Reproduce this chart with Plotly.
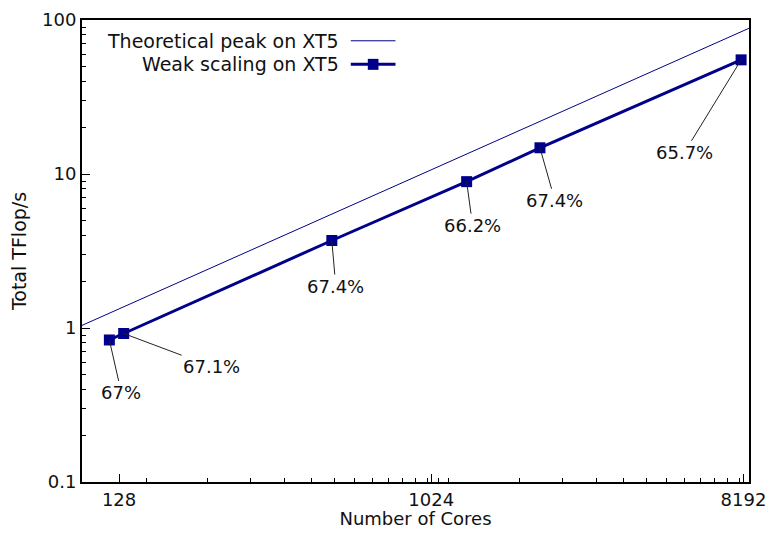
import math
import plotly.graph_objects as go

# --- data
cores = [120, 132, 528, 1296, 2112, 8064]
tflops = [0.836, 0.921, 3.70, 8.92, 14.8, 55.1]
efficiency = ["67%", "67.1%", "67.4%", "66.2%", "67.4%", "65.7%"]

peak_cores = [100, 8500]
peak_tflops = [1.04, 88.4]

x_ticks = [128, 1024, 8192]
y_ticks = [0.1, 1, 10, 100]
x_minor = [128 * 0.6 * k for k in range(2, 16)] + [1024 * 0.6 * k for k in range(3, 14)]

# label offsets (pixels from the point)
label_dx = [12, 88, 4, 6, 15, -57]
label_dy = [53, 33, 46, 44, 53, 93]

navy = "#00008b"
font = "DejaVu Sans"
txt = "#111111"

fig = go.Figure()
fig.add_trace(go.Scatter(x=peak_cores, y=peak_tflops, mode="lines",
                         name="Theoretical peak on XT5", line=dict(color=navy, width=1)))
fig.add_trace(go.Scatter(x=cores, y=tflops, mode="lines+markers",
                         name="Weak scaling on XT5", line=dict(color=navy, width=3),
                         marker=dict(symbol="square", size=11, color=navy)))

# log axes: annotation coordinates are given in log10 units
for c, t, lab, dx, dy in zip(cores, tflops, efficiency, label_dx, label_dy):
    fig.add_annotation(x=math.log10(c), y=math.log10(t), xref="x", yref="y",
                       ax=dx, ay=dy, text=lab, showarrow=True, arrowhead=0,
                       arrowwidth=1, arrowcolor="#222222",
                       font=dict(family=font, size=18, color=txt))

# legend drawn by hand: text right-aligned, sample to the right
leg_names = ["Theoretical peak on XT5", "Weak scaling on XT5"]
leg_y = [0.955, 0.904]
leg_w = [1, 3]
for name, yy, w in zip(leg_names, leg_y, leg_w):
    fig.add_annotation(x=0.389, y=yy, xref="paper", yref="paper", text=name,
                       showarrow=False, xanchor="right", yanchor="middle",
                       font=dict(family=font, size=19, color=txt))
    fig.add_shape(type="line", xref="paper", yref="paper", x0=0.403, x1=0.470,
                  y0=yy, y1=yy, line=dict(color=navy, width=w))
fig.add_shape(type="rect", xref="paper", yref="paper", x0=0.4285, x1=0.4445,
              y0=leg_y[1] - 0.0119, y1=leg_y[1] + 0.0119,
              fillcolor=navy, line=dict(width=0))

axis_common = dict(showline=True, linecolor="black", linewidth=2, mirror=True,
                   ticks="inside", ticklen=8, tickwidth=1, tickcolor="black",
                   showgrid=False, zeroline=False, automargin=False,
                   tickfont=dict(family=font, size=18, color=txt))

# the page body has an 8px margin, so the figure is 16px smaller than the window
fig.update_layout(
    width=759, height=521,
    margin=dict(l=74, r=18, t=12, b=47),
    paper_bgcolor="white", plot_bgcolor="white",
    showlegend=False,
    xaxis=dict(type="log", range=[2, 3.9294], tickvals=x_ticks,
               ticktext=[str(v) for v in x_ticks],
               title=dict(text="Number of Cores", standoff=2,
                          font=dict(family=font, size=18, color=txt)),
               minor=dict(tickvals=x_minor, ticks="inside", ticklen=4,
                          tickcolor="black", showgrid=False),
               **axis_common),
    yaxis=dict(type="log", range=[-1, 2], tickvals=y_ticks,
               ticktext=["0.1", "1", "10", "100"],
               title=dict(text="Total TFlop/s", standoff=12,
                          font=dict(family=font, size=19, color=txt)),
               minor=dict(ticks="inside", ticklen=4, tickcolor="black",
                          dtick="D1", showgrid=False),
               **axis_common),
)

fig.write_html("out.html")
